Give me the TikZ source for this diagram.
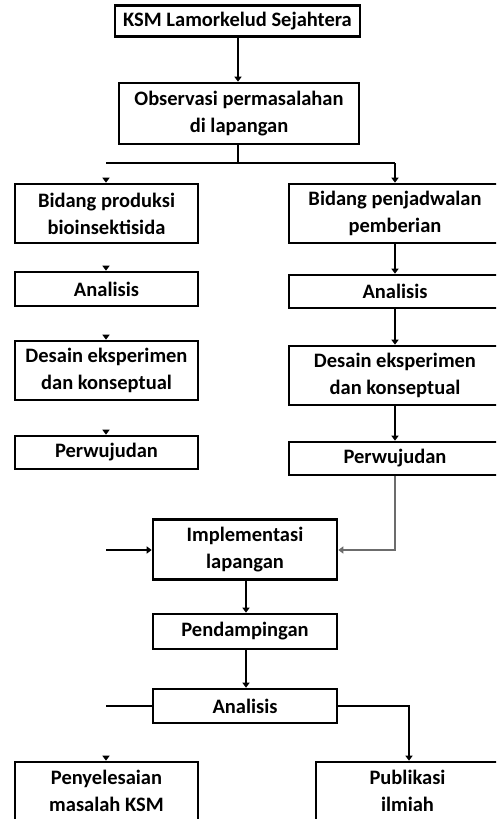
\documentclass[tikz,border=0pt]{standalone}
\usepackage{fontspec}
\setmainfont{Carlito}
\usetikzlibrary{arrows.meta,calc}
\begin{document}
\begin{tikzpicture}[x=1pt,y=-1pt,
  box/.style={draw=black,line width=2.6pt,rectangle,inner sep=0pt,align=center,
    font=\fontsize{20.5}{27}\selectfont\bfseries},
  arr/.style={draw=black,line width=1.2pt,-{Triangle[width=7pt,length=5pt]}},
  ln/.style={draw=black,line width=1.2pt},
  garr/.style={draw=gray!85!black,line width=1.2pt,-{Triangle[width=7pt,length=5pt]}}]
\useasboundingbox (0,0) rectangle (496,819);
\clip (0,0) rectangle (496,819);
% nodes
\node[box,minimum width=245pt,minimum height=31pt] (ksm) at (237.5,21) {KSM Lamorkelud Sejahtera};
\node[box,minimum width=240pt,minimum height=61pt] (obs) at (239,113.5) {Observasi permasalahan\\di lapangan};
\node[box,minimum width=183pt,minimum height=59pt] (l1) at (106.5,213.5) {Bidang produksi\\bioinsektisida};
\node[box,minimum width=183pt,minimum height=34pt] (l2) at (106.5,289) {Analisis};
\node[box,minimum width=183pt,minimum height=59pt] (l3) at (106.5,370.5) {Desain eksperimen\\dan konseptual};
\node[box,minimum width=183pt,minimum height=33pt] (l4) at (106.5,452.5) {Perwujudan};
\node[box,minimum width=212pt,minimum height=59pt] (r1) at (395,213.5) {Bidang penjadwalan\\pemberian};
\node[box,minimum width=212pt,minimum height=33pt] (r2) at (395,291.5) {Analisis};
\node[box,minimum width=212pt,minimum height=59pt] (r3) at (395,375.5) {Desain eksperimen\\dan konseptual};
\node[box,minimum width=212pt,minimum height=33pt] (r4) at (395,458.5) {Perwujudan};
\node[box,minimum width=184pt,minimum height=60pt] (imp) at (245,549.5) {Implementasi\\lapangan};
\node[box,minimum width=184pt,minimum height=35pt] (pend) at (245,631.5) {Pendampingan};
\node[box,minimum width=184pt,minimum height=34pt] (ana) at (245,706) {Analisis};
\node[box,minimum width=183pt,minimum height=70pt,text height=42pt,text depth=14pt] (pen) at (106.5,797) {Penyelesaian\\masalah KSM};
\node[box,minimum width=183pt,minimum height=70pt,text height=42pt,text depth=14pt] (pub) at (407.5,797) {Publikasi\\ilmiah};
% coordinates
\coordinate (split) at (238,163);
\coordinate (splitL) at (106,163);
\coordinate (splitR) at (395,163);
\coordinate (c1) at (106,178);
\coordinate (c2) at (106,266);
\coordinate (c3) at (106,335);
\coordinate (c4) at (106,430);
\coordinate (c5) at (106,756);
\coordinate (inL) at (106,550);
\coordinate (anL) at (106,706);
\coordinate (bendR) at (395,550);
\coordinate (bendP) at (409,706);
% connectors
\draw[arr] (ksm.south -| 238,0) -- (obs.north -| 238,0);
\draw[ln] (obs.south -| split) -- (split);
\draw[ln] (splitL) -- (splitR);
\draw[arr] (splitR) -- (r1.north);
\draw[arr] (c1) -- (l1.north -| c1);
\draw[arr] (c2) -- (l2.north -| c2);
\draw[arr] (c3) -- (l3.north -| c3);
\draw[arr] (c4) -- (l4.north -| c4);
\draw[arr] (r1.south) -- (r2.north);
\draw[arr] (r2.south) -- (r3.north);
\draw[arr] (r3.south) -- (r4.north);
\draw[garr] (r4.south) -- (bendR) -- (imp.east |- bendR);
\draw[arr] (inL) -- (imp.west |- inL);
\draw[arr] (imp.south -| 246,0) -- (pend.north -| 246,0);
\draw[arr] (pend.south -| 246,0) -- (ana.north -| 246,0);
\draw[ln] (ana.west) -- (anL);
\draw[arr] (ana.east) -- (bendP) -- (pub.north -| bendP);
\draw[arr] (c5) -- (pen.north -| c5);
\end{tikzpicture}
\end{document}
